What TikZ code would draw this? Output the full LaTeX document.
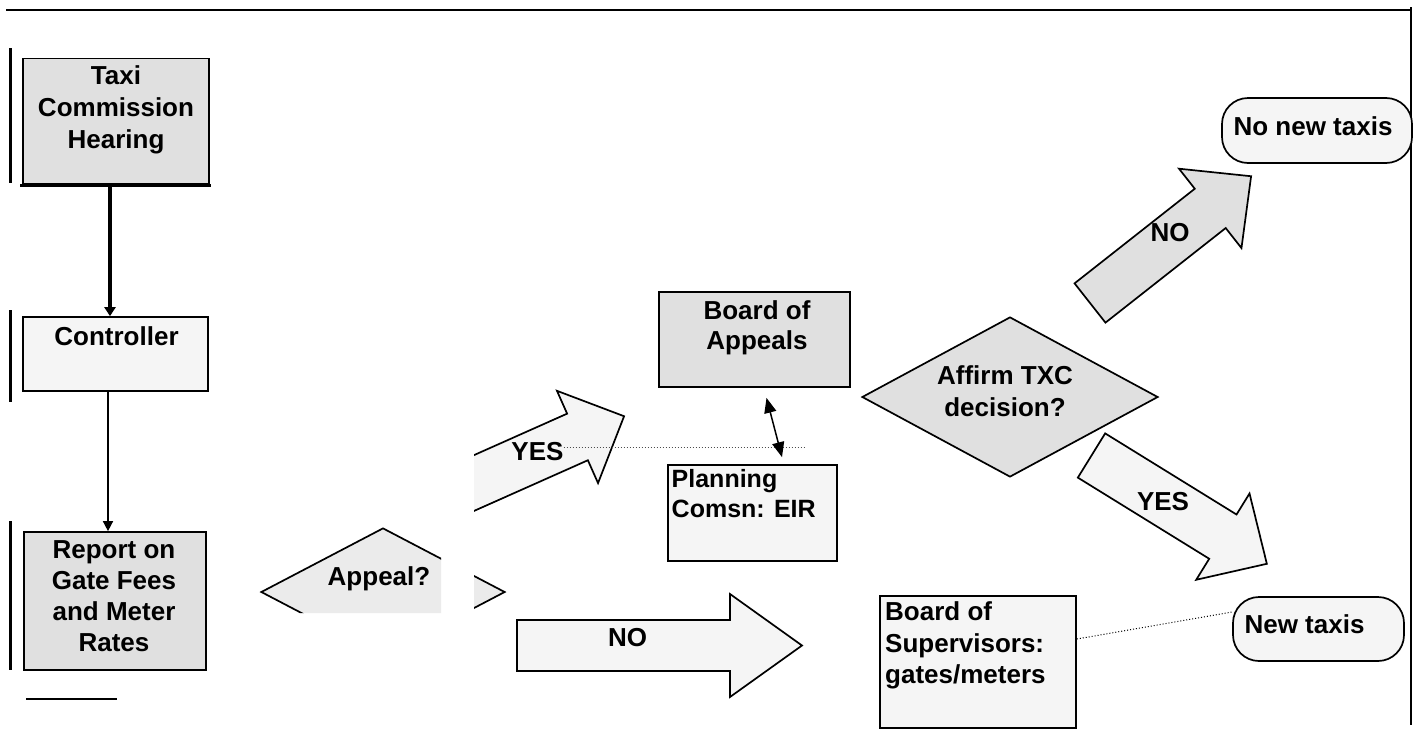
\documentclass[tikz,border=0pt]{standalone}
\usepackage{fontspec}
\setmainfont{Liberation Sans}
\usetikzlibrary{arrows.meta,shapes.geometric}
\newcommand\blkarrow[7]{%
  \begin{scope}[shift={#1},rotate=#2]
    \draw[blk,#7] (0,-#5) -- (#3,-#5) -- (#3,-#6) -- ({#3+#4},0) -- (#3,#6) -- (#3,#5) -- (0,#5) -- cycle;
  \end{scope}}
\begin{document}
\begin{tikzpicture}[x=1pt,y=-1pt,
  font=\fontsize{26}{32}\selectfont\bfseries,
  box/.style={draw=black, line width=1.7pt, inner sep=0pt, rectangle},
  dense/.style={fill=black!12},
  sparse/.style={fill=black!4},
  lbl/.style={inner sep=0pt, align=center},
  lbll/.style={inner sep=0pt, align=left, anchor=west},
  blk/.style={draw=black, line width=1.7pt, line join=miter},
  dia/.style={draw=black, line width=1.7pt, diamond, inner sep=0pt},
  pill/.style={draw=black, line width=1.7pt, rectangle, rounded corners=26pt, inner sep=0pt},
  rulel/.style={line width=1.8pt},
  bar/.style={line width=3pt},
  conn/.style={line width=1.5pt, -{Triangle[length=10pt,width=10pt]}},
  connthick/.style={line width=3.2pt, -{Triangle[length=9pt,width=11pt]}},
  dbl/.style={line width=1.5pt, {Triangle[length=15pt,width=12pt]}-{Triangle[length=15pt,width=12pt]}},
  dots/.style={line width=1pt, dotted}
]
\fill[white] (0,0) rectangle (1418,731);
\useasboundingbox (0,0) rectangle (1418,731);

% frame rules
\draw[rulel] (6,10) -- (1411,10);
\draw[rulel] (1411,7) -- (1411,725);
\draw[rulel] (26,699) -- (117,699);
\draw[bar] (10,48) -- (10,183);
\draw[bar] (10,310) -- (10,402);
\draw[bar] (10,521) -- (10,670);

% left column boxes
\node[box,dense,minimum width=186pt,minimum height=125pt] (taxi) at (116,121) {};
\node[lbl] (taxit) at (116,109.5) {Taxi\\Commission\\Hearing};
\draw[line width=3pt] (taxi.south west) ++(-2,1) -- ([xshift=1pt,yshift=-1pt]taxi.south east);

\node[box,sparse,minimum width=185pt,minimum height=74pt] (ctrl) at (115.5,354) {};
\node[lbl,anchor=base] (ctrlt) at (116.5,345) {Controller};

\node[box,dense,minimum width=182pt,minimum height=138pt] (report) at (115,601) {};
\node[lbl,font=\fontsize{26}{31}\selectfont\bfseries] (reportt) at (114,596.5) {Report on\\Gate Fees\\and Meter\\Rates};

\draw[connthick] ([xshift=-6pt,yshift=-1.5pt]taxi.south) -- ([xshift=-5.5pt]ctrl.north);
\draw[conn] ([xshift=-7.5pt]ctrl.south) -- ([xshift=-7pt]report.north);

% Appeal? decision (partly hidden)
\begin{scope}
  \clip (0,0) rectangle (441,613) (474,0) rectangle (1418,731);
  \node[dia,fill=black!8,minimum width=244pt,minimum height=128pt] (appeal) at (383,592) {};
\end{scope}
\node[lbl,anchor=base] (appealt) at (379,585.5) {Appeal?};

% YES arrow (tail hidden)
\begin{scope}
  \clip (474,0) rectangle (1418,731);
  \blkarrow{(457,490.6)}{24}{131.9}{51}{25.5}{50.5}{sparse}
\end{scope}
\node[lbl,anchor=base] (yes1) at (537.5,460) {YES};
\draw[dots,black!70] (yes1.east |- 0,447) -- (805,447);

% NO arrow (bottom)
\blkarrow{(517,645.5)}{0}{213}{72}{25.5}{51.5}{sparse}
\node[lbl,anchor=base] (no1) at (627.5,646.5) {NO};

% Board of Appeals and Planning
\node[box,dense,minimum width=191pt,minimum height=95pt] (appeals) at (754.5,339.5) {};
\node[lbl,font=\fontsize{26}{30}\selectfont\bfseries] (appealst) at (757,327.5) {Board of\\Appeals};
\node[box,sparse,minimum width=169pt,minimum height=96pt] (planning) at (752.5,513) {};
\node[lbll,font=\fontsize{25}{29.5}\selectfont\bfseries] (planningt) at (671.5,493.5) {Planning\\Comsn: EIR};
\coordinate (dA) at ([shift={(12pt,-10pt)}]appeals.south);
\coordinate (dB) at ([shift={(29.5pt,7pt)}]planning.north);
\draw[dbl] (dA) -- (dB);

% Board of Supervisors
\node[box,sparse,minimum width=196pt,minimum height=132pt] (supers) at (978,662) {};
\node[lbll,font=\fontsize{26}{31.5}\selectfont\bfseries] (superst) at (885,645.8) {Board of\\Supervisors:\\gates/meters};

% Affirm decision
\node[dia,fill=black!12,minimum width=296pt,minimum height=160pt] (affirm) at (1010,397) {};
\node[lbl] (affirmt) at (1005,390.8) {Affirm TXC\\decision?};

% diagonal arrows
\blkarrow{(1090,303)}{38.2}{153}{52}{25}{50.5}{dense}
\node[lbl,anchor=base] (no2) at (1170,241.7) {NO};
\blkarrow{(1091.5,455.5)}{-31.7}{154.4}{51.7}{26}{50.7}{sparse}
\node[lbl,anchor=base] (yes2) at (1163,510) {YES};

% outcomes
\node[pill,sparse,minimum width=190pt,minimum height=65pt] (nonew) at (1317,130.5) {};
\node[lbl,anchor=base] (nonewt) at (1313,135) {No new taxis};
\node[pill,sparse,minimum width=171pt,minimum height=64pt] (newtx) at (1318.5,629) {};
\node[lbl,anchor=base] (newtxt) at (1304.5,633) {New taxis};

\draw[dots] ([yshift=23pt]supers.east) -- ([yshift=17pt]newtx.west);
\end{tikzpicture}
\end{document}
